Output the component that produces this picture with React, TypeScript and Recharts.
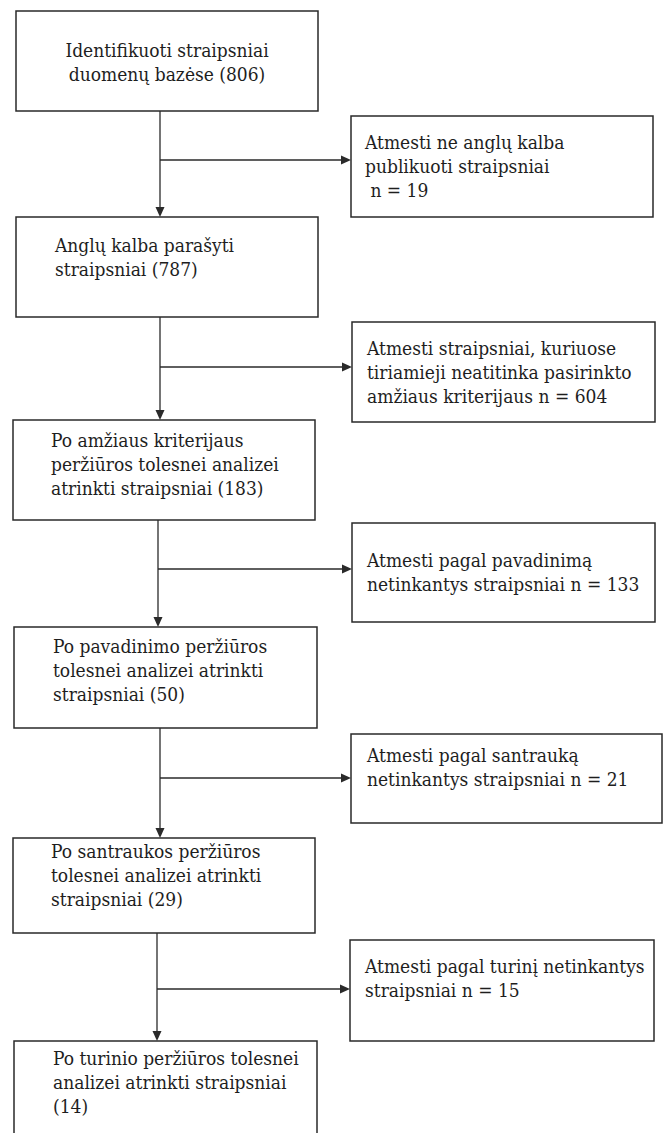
import {
  ReferenceArea,
  ReferenceLine,
  Scatter,
  ScatterChart,
  XAxis,
  YAxis
} from "recharts";

// screening stages (left column) and how many articles remained
const stageLines = [
  ["Identifikuoti straipsniai", "duomenų bazėse"],
  ["Anglų kalba parašyti", "straipsniai"],
  ["Po amžiaus kriterijaus", "peržiūros tolesnei analizei", "atrinkti straipsniai"],
  ["Po pavadinimo peržiūros", "tolesnei analizei atrinkti", "straipsniai"],
  ["Po santraukos peržiūros", "tolesnei analizei atrinkti", "straipsniai"],
  ["Po turinio peržiūros tolesnei", "analizei atrinkti straipsniai", ""]
];
const stageCounts = [806, 787, 183, 50, 29, 14];

// exclusions (right column)
const excludedLines = [
  ["Atmesti ne anglų kalba", "publikuoti straipsniai", ""],
  ["Atmesti straipsniai, kuriuose", "tiriamieji neatitinka pasirinkto", "amžiaus kriterijaus"],
  ["Atmesti pagal pavadinimą", "netinkantys straipsniai"],
  ["Atmesti pagal santrauką", "netinkantys straipsniai"],
  ["Atmesti pagal turinį netinkantys", "straipsniai"]
];
const excludedCounts = [19, 604, 133, 21, 15];

// layout, in page pixels (axes map 1:1)
const W = 665;
const H = 1133;
const stageBoxes = [
  { x1: 16, x2: 318, y1: 11, y2: 111 },
  { x1: 16, x2: 318, y1: 217, y2: 317 },
  { x1: 13, x2: 315, y1: 420, y2: 520 },
  { x1: 14, x2: 317, y1: 627, y2: 728 },
  { x1: 13, x2: 315, y1: 838, y2: 933 },
  { x1: 14, x2: 317, y1: 1041, y2: 1160 }
];
const excludedBoxes = [
  { x1: 351, x2: 653, y1: 116, y2: 217 },
  { x1: 352, x2: 655, y1: 322, y2: 422 },
  { x1: 352, x2: 655, y1: 523, y2: 622 },
  { x1: 351, x2: 662, y1: 734, y2: 823 },
  { x1: 350, x2: 654, y1: 940, y2: 1041 }
];
const stageTextAt = [
  { x: 167, y: 57, anchor: "middle" },
  { x: 55, y: 252, anchor: "start" },
  { x: 51, y: 447, anchor: "start" },
  { x: 53, y: 653, anchor: "start" },
  { x: 51, y: 858, anchor: "start" },
  { x: 53, y: 1065, anchor: "start" }
];
const excludedTextAt = [
  { x: 365, y: 149 },
  { x: 367, y: 355 },
  { x: 367, y: 567 },
  { x: 367, y: 762 },
  { x: 365, y: 973 }
];
const trunkX = [160, 160, 158, 160, 157];
const branchY = [160, 367, 569, 778, 989];

const INK = "#2a2a2a";
const HEAD = 10;
const LINE_H = 24;
const SERIF = '"DejaVu Serif Condensed", "DejaVu Serif", serif';

const withCount = (lines: string[], last: string) =>
  lines.slice(0, -1).concat(lines[lines.length - 1] ? lines[lines.length - 1] + " " + last : last);

const textBlocks = [
  ...stageLines.map((lines, i) => ({
    x: stageTextAt[i].x,
    y: stageTextAt[i].y,
    anchor: stageTextAt[i].anchor,
    lines: withCount(lines, `(${stageCounts[i]})`)
  })),
  ...excludedLines.map((lines, i) => ({
    x: excludedTextAt[i].x,
    y: excludedTextAt[i].y,
    anchor: "start",
    lines: lines.slice(0, -1).concat(`${lines[lines.length - 1]} n = ${excludedCounts[i]}`)
  }))
];

const arrowTips = [
  ...trunkX.map((x, i) => ({ x, y: stageBoxes[i + 1].y1, dir: "down" })),
  ...branchY.map((y, i) => ({ x: excludedBoxes[i].x1, y, dir: "right" }))
];

function ArrowHead(props: any) {
  const { cx, cy, payload } = props;
  const pts =
    payload.dir === "down"
      ? `${cx},${cy} ${cx - 4.5},${cy - HEAD} ${cx + 4.5},${cy - HEAD}`
      : `${cx},${cy} ${cx - HEAD},${cy - 4.5} ${cx - HEAD},${cy + 4.5}`;
  return <polygon points={pts} fill={INK} />;
}

function TextBlock(props: any) {
  const { cx, cy, payload } = props;
  return (
    <text
      style={{
        fontFamily: SERIF,
        fontStretch: "condensed",
        fontSize: 19,
        fill: "#1e1e1e",
        whiteSpace: "pre"
      }}
      textAnchor={payload.anchor}
    >
      {payload.lines.map((line: string, i: number) => (
        <tspan key={i} x={cx} y={cy + i * LINE_H}>
          {line}
        </tspan>
      ))}
    </text>
  );
}

export default function App() {
  return (
    <div style={{ width: W, height: H, background: "#fff", fontFamily: SERIF }}>
      <style>{"body{margin:0}"}</style>
      <ScatterChart width={W} height={H} margin={{ top: 0, right: 0, bottom: 0, left: 0 }}>
        <XAxis type="number" dataKey="x" domain={[0, W]} hide allowDataOverflow />
        <YAxis type="number" dataKey="y" domain={[0, H]} reversed hide allowDataOverflow />

        {stageBoxes.map((b, i) => (
          <ReferenceArea
            key={`s${i}`}
            {...b}
            fill="#fff"
            fillOpacity={1}
            stroke={INK}
            strokeWidth={1.5}
            ifOverflow="visible"
          />
        ))}
        {excludedBoxes.map((b, i) => (
          <ReferenceArea
            key={`e${i}`}
            {...b}
            fill="#fff"
            fillOpacity={1}
            stroke={INK}
            strokeWidth={1.5}
            ifOverflow="visible"
          />
        ))}

        {trunkX.map((x, i) => (
          <ReferenceLine
            key={`t${i}`}
            segment={[
              { x, y: stageBoxes[i].y2 },
              { x, y: stageBoxes[i + 1].y1 - HEAD + 1 }
            ]}
            stroke={INK}
            strokeWidth={1.3}
            ifOverflow="visible"
          />
        ))}
        {branchY.map((y, i) => (
          <ReferenceLine
            key={`b${i}`}
            segment={[
              { x: trunkX[i], y },
              { x: excludedBoxes[i].x1 - HEAD + 1, y }
            ]}
            stroke={INK}
            strokeWidth={1.3}
            ifOverflow="visible"
          />
        ))}

        <Scatter data={arrowTips} shape={(p: any) => <ArrowHead {...p} />} isAnimationActive={false} />
        <Scatter data={textBlocks} shape={(p: any) => <TextBlock {...p} />} isAnimationActive={false} />
      </ScatterChart>
    </div>
  );
}
